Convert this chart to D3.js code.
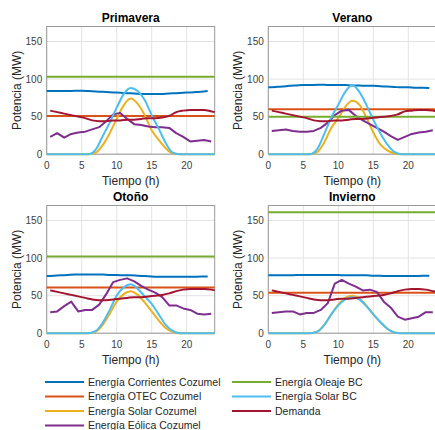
<!DOCTYPE html>
<html>
<head>
<meta charset="utf-8">
<script src="https://cdn.jsdelivr.net/npm/d3@7"></script>
<style>
  body { margin: 0; background: #fff; }
  svg { font-family: "Liberation Sans", Arial, sans-serif; }
</style>
</head>
<body>
<svg width="435" height="430"></svg>
<script>
// estaciones (un panel por estacion)
var seasons = ["Primavera", "Verano", "Otoño", "Invierno"];

var xTicks = [0, 5, 10, 15, 20];
var yTicks = [0, 50, 100, 150];

// ejes de tiempo de cada serie (h)
var hoursSolar = [0,1,2,3,4,5,6,7,8,9,10,11,12,13,14,15,16,17,18,19,20,21,22,23,24];
var hoursCorr = [0,1,2,3,4,5,6,7,8,9,10,11,12,13,14,15,16,17,18,19,20,21,22,23];
var hoursEol = [0.5,1.5,2.5,3.5,4.5,5.5,6.5,7.5,8.5,9.5,10.5,11.5,12.5,13.5,14.5,15.5,16.5,17.5,18.5,19.5,20.5,21.5,22.5,23.5];
var hoursDem = [0.5,1.5,2.5,3.5,4.5,5.5,6.5,7.5,8.5,9.5,10.5,11.5,12.5,13.5,14.5,15.5,16.5,17.5,18.5,19.5,20.5,21.5,22.5,23.5,24];

// Energia Corrientes Cozumel (MW)
var corrientes = [
  [84,84,84,84,84.5,84.5,84,83.5,83,82.5,82,81.5,81,80.5,80,80,80,80.5,81,81.5,82,82.5,83,84],
  [89,89.5,90,91,91.5,92,92,92.5,92.5,92,92,92,91.5,91.5,91,91,90.5,90,89.5,89,89,88.5,88.5,88],
  [76,76.5,77,77.5,78,78,78,78,78,77.5,77.5,77,77,76.5,76,75.5,75,75,75,75,75,75,75.5,75.5],
  [77,77,77,77,77.5,77.5,77.5,77.5,77.5,77.5,77.5,77,77,77,77,76.5,76.5,76,76,76,76,76,76.5,76.5]
];
// Energia OTEC Cozumel (constante)
var otec = [51, 60, 61, 54];
// Energia Solar Cozumel
var solarCozumel = [
  [0,0,0,0,0,0,0,2,12,28,47,65,74,67,52,32,19,8,1,0,0,0,0,0,0],
  [0,0,0,0,0,0,0,3,16,35,48,63,71,66,49,29,13,5,1,0,0,0,0,0,0],
  [0,0,0,0,0,0,0,2,11,26,42,52,56,51,41,29,17,7,2,0,0,0,0,0,0],
  [0,0,0,0,0,0,0,2,11,25,38,47,50,46,37,25,15,6,1,0,0,0,0,0,0]
];
// Energia Eolica Cozumel
var eolica = [
  [23,28,22,27,29,30,33,36,44,53,55,47,40,39,37,36,36,35,28,23,17,18,19,17],
  [31,32,33,31,30,30,31,35,42,52,58,59,51,45,40,35,30,24,19,23,27,29,30,32],
  [28,29,36,42,29,31,31,38,52,68,71,73,69,63,58,54,48,37,37,33,31,26,25,26],
  [27,28,29,29,25,27,27,31,40,66,71,66,62,57,58,55,42,34,22,18,20,22,28,28]
];
// Energia Oleaje BC (constante)
var oleaje = [103, 50, 102, 161];
// Energia Solar BC
var solarBC = [
  [0,0,0,0,0,0,0,6,24,42,62,80,88,84,72,52,34,15,2,0,0,0,0,0,0],
  [0,0,0,0,0,0,0,7,27,49,66,83,92,83,66,46,28,13,3,0,0,0,0,0,0],
  [0,0,0,0,0,0,0,3,14,31,50,61,65,59,49,39,25,11,3,0,0,0,0,0,0],
  [0,0,0,0,0,0,0,2,11,25,37,45,48,45,36,25,15,6,1,0,0,0,0,0,0]
];
// Demanda
var demanda = [
  [58,56,54,52,50,48,45,44,44,45,45,46,46,47,48,48,49,51,56,58,59,59,59,57,56],
  [58,56,54,52,50,48,45,44,44,45,45,46,47,47,48,49,50,51,53,57,58,59,59,58,57],
  [57,55,53,51,49,47,45,44,44,45,46,47,48,48,49,50,51,53,56,58,59,59,59,58,57],
  [57,55,53,51,49,47,45,44,44,45,46,46,47,48,49,50,51,53,56,58,59,59,58,56,55]
];

var legendNames = ["Energía Corrientes Cozumel", "Energía OTEC Cozumel", "Energía Solar Cozumel",
  "Energía Eólica Cozumel", "Energía Oleaje BC", "Energía Solar BC", "Demanda"];
var colors = ["#0072BD", "#D95319", "#EDB120", "#7E2F8E", "#77AC30", "#4DBEEE", "#A2142F"];

var svg = d3.select("svg");

var W = 168, H = 127.7;
var colX = [46.7, 268.3], rowY = [26.5, 205.5];

var x = d3.scaleLinear().domain([0, 24]).range([0, W]);
var y = d3.scaleLinear().domain([0, 170]).range([H, 0]);

function drawLine(g, xs, ys, color, curve) {
  var line = d3.line()
    .x(function(d, i) { return x(xs[i]); })
    .y(function(d) { return y(d); })
    .curve(curve);
  g.append("path").datum(ys)
    .attr("d", line)
    .attr("fill", "none")
    .attr("stroke", color)
    .attr("stroke-width", 2)
    .attr("stroke-linejoin", "round");
}

seasons.forEach(function(name, s) {
  var g = svg.append("g")
    .attr("transform", "translate(" + colX[s % 2] + "," + rowY[Math.floor(s / 2)] + ")");

  g.append("rect").attr("width", W).attr("height", H).attr("fill", "#fff");

  // rejilla
  g.selectAll(".gx").data(xTicks).enter().append("line")
    .attr("x1", function(d) { return x(d); }).attr("x2", function(d) { return x(d); })
    .attr("y1", 0).attr("y2", H)
    .attr("stroke", "#e3e3e3").attr("stroke-width", 1);
  g.selectAll(".gy").data(yTicks).enter().append("line")
    .attr("y1", function(d) { return y(d); }).attr("y2", function(d) { return y(d); })
    .attr("x1", 0).attr("x2", W)
    .attr("stroke", "#e3e3e3").attr("stroke-width", 1);

  g.append("rect").attr("width", W).attr("height", H)
    .attr("fill", "none").attr("stroke", "#9a9a9a").attr("stroke-width", 1);

  // etiquetas de ejes
  g.selectAll(".tx").data(xTicks).enter().append("text")
    .attr("x", function(d) { return x(d); }).attr("y", H + 15)
    .attr("text-anchor", "middle").attr("font-size", 10).attr("fill", "#404040")
    .text(function(d) { return d; });
  g.selectAll(".ty").data(yTicks).enter().append("text")
    .attr("x", -4.5).attr("y", function(d) { return y(d); }).attr("dy", "0.35em")
    .attr("text-anchor", "end").attr("font-size", 10).attr("fill", "#404040")
    .text(function(d) { return d; });

  g.append("text").attr("x", W / 2).attr("y", H + 31)
    .attr("text-anchor", "middle").attr("font-size", 12).attr("fill", "#262626")
    .text("Tiempo (h)");
  g.append("text")
    .attr("transform", "translate(-26," + (H / 2) + ") rotate(-90)")
    .attr("text-anchor", "middle").attr("font-size", 12).attr("fill", "#262626")
    .text("Potencia (MW)");
  g.append("text").attr("x", W / 2).attr("y", -5)
    .attr("text-anchor", "middle").attr("font-size", 12).attr("font-weight", "bold").attr("fill", "#000")
    .text(name);

  // series
  drawLine(g, hoursCorr, corrientes[s], colors[0], d3.curveMonotoneX);
  drawLine(g, [0, 24], [otec[s], otec[s]], colors[1], d3.curveLinear);
  drawLine(g, hoursSolar, solarCozumel[s], colors[2], d3.curveMonotoneX);
  drawLine(g, hoursEol, eolica[s], colors[3], d3.curveLinear);
  drawLine(g, [0, 24], [oleaje[s], oleaje[s]], colors[4], d3.curveLinear);
  drawLine(g, hoursSolar, solarBC[s], colors[5], d3.curveMonotoneX);
  drawLine(g, hoursDem, demanda[s], colors[6], d3.curveMonotoneX);
});

// leyenda
var legX = [45, 232], legY = [382, 396.5, 411, 425.5];
var leg = svg.append("g");
legendNames.forEach(function(n, i) {
  var c = i < 4 ? 0 : 1, r = i < 4 ? i : i - 4;
  leg.append("line")
    .attr("x1", legX[c]).attr("x2", legX[c] + 39)
    .attr("y1", legY[r]).attr("y2", legY[r])
    .attr("stroke", colors[i]).attr("stroke-width", 2);
  leg.append("text")
    .attr("x", legX[c] + 43).attr("y", legY[r]).attr("dy", "0.35em")
    .attr("font-size", 10.5).attr("fill", "#262626")
    .text(n);
});
</script>
</body>
</html>
